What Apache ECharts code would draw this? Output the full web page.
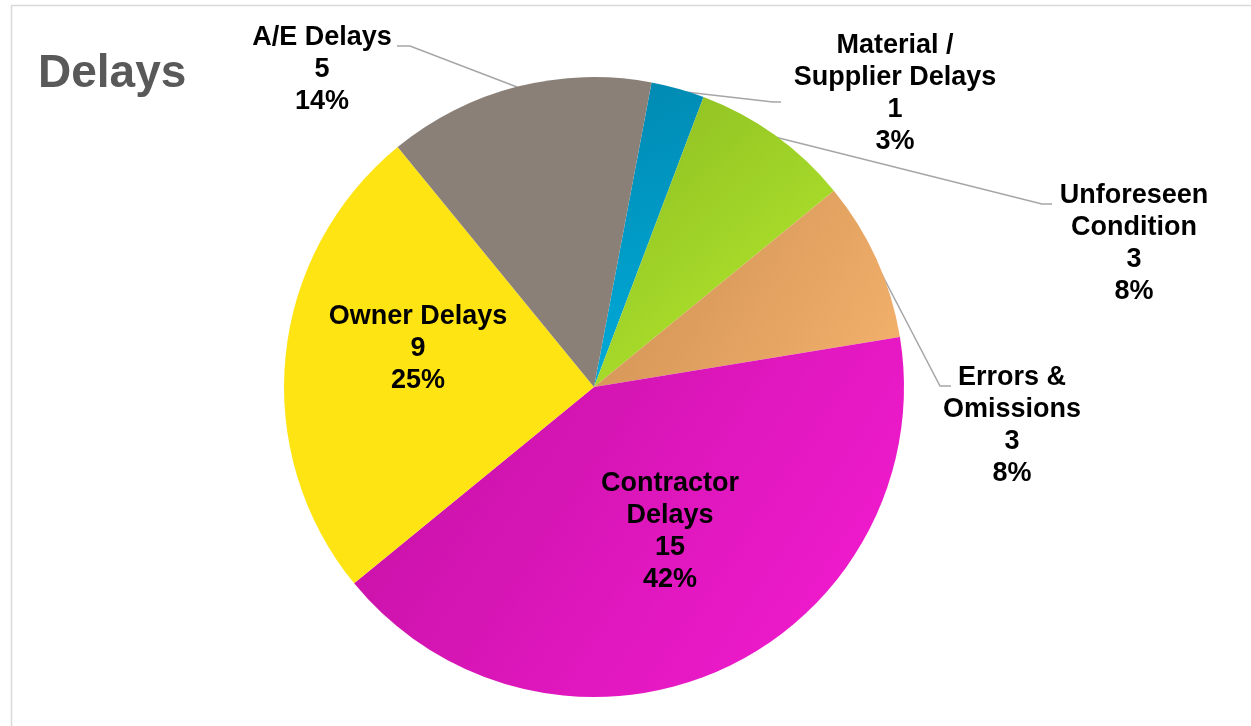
<!DOCTYPE html>
<html>
<head>
<meta charset="utf-8">
<script src="https://cdn.jsdelivr.net/npm/echarts@6/dist/echarts.min.js"></script>
<style>
html,body{margin:0;padding:0;background:#fff;}
#chart{width:1251px;height:726px;}
</style>
</head>
<body>
<div id="chart"></div>
<script>
const categories = ['Material /\nSupplier Delays', 'Unforeseen\nCondition', 'Errors &\nOmissions', 'Contractor\nDelays', 'Owner Delays', 'A/E Delays'];
const values = [1, 3, 3, 15, 9, 5];
const titleText = 'Delays';

const colorStops = [
  ['#0088B0', '#00AEDD'],
  ['#8CBC22', '#B6EC2E'],
  ['#CC8E52', '#F4B26C'],
  ['#C211A2', '#F61CD3'],
  ['#FFE414', '#FFE414'],
  ['#8A8078', '#8A8078']
];

// label placement (center of label block) and leader lines
const labelPos = [
  {x: 895, y: 94, line: [[677, 91], [773, 102], [781, 102]]},
  {x: 1134, y: 244, line: [[775, 137], [1042, 204], [1052, 204]]},
  {x: 1012, y: 426, line: [[876, 263], [940, 386], [951, 386]]},
  {x: 670, y: 532},
  {x: 418, y: 349},
  {x: 322, y: 70, line: [[517, 87], [410, 46], [397, 46]]}
];

const chart = echarts.init(document.getElementById('chart'));
const data = values.map((v, i) => ({
  name: categories[i],
  value: v,
  itemStyle: {
    color: new echarts.graphic.LinearGradient(0, 0, 1, 1, [
      {offset: 0, color: colorStops[i][0]},
      {offset: 1, color: colorStops[i][1]}
    ])
  },
  labelLine: {show: !!labelPos[i].line}
}));

chart.setOption({
  backgroundColor: '#fff',
  animation: false,
  graphic: [{
    type: 'rect',
    shape: {x: 11.5, y: 5.5, width: 1300, height: 800},
    style: {fill: 'none', stroke: '#D9D9D9', lineWidth: 1.5},
    silent: true
  }],
  title: {
    text: titleText,
    left: 33,
    top: 46,
    textStyle: {fontFamily: '"Liberation Sans", Arial, sans-serif', fontSize: 46, fontWeight: 'bold', color: '#595959'}
  },
  series: [{
    type: 'pie',
    center: [594, 387],
    radius: 310,
    startAngle: 79.3,
    clockwise: true,
    percentPrecision: 0,
    data: data,
    itemStyle: {borderWidth: 0},
    label: {
      show: true,
      formatter: '{b}\n{c}\n{d}%',
      fontFamily: '"Liberation Sans", Arial, sans-serif',
      fontSize: 27,
      fontWeight: 'bold',
      color: '#000',
      lineHeight: 32,
      align: 'center'
    },
    labelLine: {
      show: true,
      lineStyle: {color: '#A6A6A6', width: 1.5}
    },
    labelLayout: function (p) {
      const lp = labelPos[p.dataIndex];
      const r = {x: lp.x, y: lp.y, align: 'center', verticalAlign: 'middle'};
      if (lp.line) r.labelLinePoints = lp.line;
      return r;
    }
  }]
});
</script>
</body>
</html>
